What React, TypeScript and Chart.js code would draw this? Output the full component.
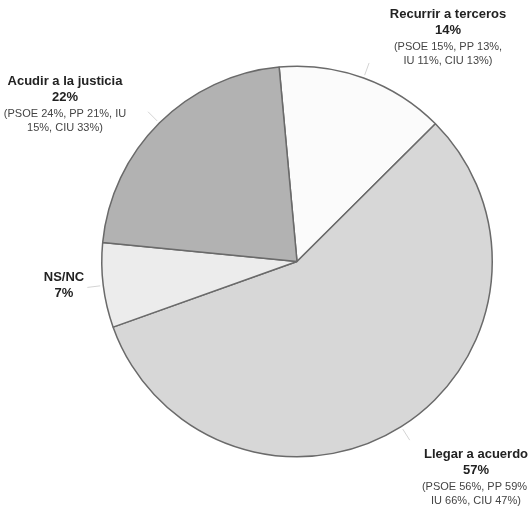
import React, { useEffect, useRef } from "react";
import { Chart, registerables } from "chart.js";

Chart.register(...registerables);

const categories = ["Recurrir a terceros", "Llegar a acuerdo", "NS/NC", "Acudir a la justicia"];
const shares = [14, 57, 7, 22];
const details: string[][] = [
  ["(PSOE 15%, PP 13%,", "IU 11%, CIU 13%)"],
  ["(PSOE 56%, PP 59%,", "IU 66%, CIU 47%)"],
  [],
  ["(PSOE 24%, PP 21%, IU", "15%, CIU 33%)"],
];
const sliceColors = ["#fbfbfb", "#d7d7d7", "#ececec", "#b2b2b2"];
// label anchor (center x, baseline of first line) per slice
const labelAnchors = [
  { x: 448, y: 18 },
  { x: 476, y: 458 },
  { x: 64, y: 281 },
  { x: 65, y: 85 },
];

const labelPlugin = {
  id: "outerLabels",
  afterDraw(chart: any) {
    const ctx = chart.ctx;
    const meta = chart.getDatasetMeta(0);
    ctx.save();
    // faint leader ticks
    meta.data.forEach((arc: any) => {
      const mid = (arc.startAngle + arc.endAngle) / 2;
      const r = arc.outerRadius;
      ctx.strokeStyle = "#d4d4d4";
      ctx.lineWidth = 1;
      ctx.beginPath();
      ctx.moveTo(arc.x + Math.cos(mid) * (r + 3), arc.y + Math.sin(mid) * (r + 3));
      ctx.lineTo(arc.x + Math.cos(mid) * (r + 16), arc.y + Math.sin(mid) * (r + 16));
      ctx.stroke();
    });
    ctx.textAlign = "center";
    ctx.textBaseline = "alphabetic";
    categories.forEach((name, i) => {
      const a = labelAnchors[i];
      let y = a.y;
      ctx.fillStyle = "#222";
      ctx.font = "bold 13px 'Liberation Sans', Arial, sans-serif";
      ctx.fillText(name, a.x, y);
      y += 16;
      ctx.fillText(shares[i] + "%", a.x, y);
      ctx.fillStyle = "#444";
      ctx.font = "11px 'Liberation Sans', Arial, sans-serif";
      details[i].forEach((line, j) => {
        y += j === 0 ? 16 : 14;
        ctx.fillText(line, a.x, y);
      });
    });
    ctx.restore();
  },
};

export default function App() {
  const ref = useRef<HTMLCanvasElement | null>(null);
  useEffect(() => {
    document.body.style.margin = "0";
    const chart = new Chart(ref.current as HTMLCanvasElement, {
      type: "pie",
      data: {
        labels: categories,
        datasets: [
          {
            data: shares,
            backgroundColor: sliceColors,
            borderColor: "#6a6a6a",
            borderWidth: 1.5,
          },
        ],
      },
      options: {
        responsive: false,
        animation: false,
        rotation: -5.25,
        layout: { padding: { left: 101, right: 35, top: 65, bottom: 49 } },
        plugins: { legend: { display: false }, tooltip: { enabled: false } },
      },
      plugins: [labelPlugin],
    });
    return () => chart.destroy();
  }, []);
  return (
    <div style={{ width: 528, height: 507, background: "#fff" }}>
      <canvas ref={ref} width={528} height={507} />
    </div>
  );
}
